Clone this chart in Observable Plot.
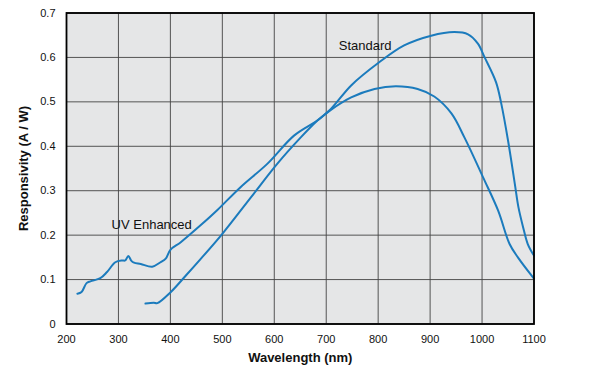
<!DOCTYPE html>
<html>
<head>
<meta charset="utf-8">
<script src="https://cdn.jsdelivr.net/npm/d3@7"></script>
<script src="https://cdn.jsdelivr.net/npm/@observablehq/plot@0.6"></script>
<style>
  html, body { margin: 0; padding: 0; background: #fff; }
  #chart svg { font-family: "Liberation Sans", Arial, Helvetica, sans-serif; }
  #chart g[aria-label="x-axis label"] text,
  #chart g[aria-label="y-axis label"] text { font-weight: bold; font-size: 13px; }
</style>
</head>
<body>
<div id="chart"></div>
<script>
// UV Enhanced series
const uvWavelength = [221, 229, 238.6, 246, 265, 278, 294, 307, 313, 319, 325, 330, 343, 365, 381, 391, 400, 420, 458, 490, 535, 587, 638, 683, 709, 748, 793, 834, 876, 908, 941, 966, 1002, 1031, 1053, 1069, 1100];
const uvResponsivity = [0.068, 0.072, 0.092, 0.096, 0.103, 0.117, 0.139, 0.143, 0.143, 0.153, 0.142, 0.138, 0.135, 0.129, 0.139, 0.147, 0.167, 0.184, 0.222, 0.256, 0.308, 0.361, 0.424, 0.458, 0.482, 0.51, 0.529, 0.535, 0.529, 0.512, 0.474, 0.42, 0.33, 0.255, 0.18, 0.15, 0.102];
// Standard series
const stdWavelength = [352, 368, 375, 400, 429, 458, 500, 555, 606, 651, 683, 709, 748, 802, 850, 902, 947, 973, 992, 1005, 1027, 1037, 1050, 1063, 1070, 1079, 1088, 1100];
const stdResponsivity = [0.046, 0.048, 0.047, 0.071, 0.108, 0.146, 0.203, 0.285, 0.361, 0.42, 0.458, 0.484, 0.537, 0.589, 0.627, 0.649, 0.657, 0.652, 0.631, 0.6, 0.544, 0.496, 0.413, 0.316, 0.263, 0.218, 0.18, 0.154];
// Ticks and labels
const xTicks = [200, 300, 400, 500, 600, 700, 800, 900, 1000, 1100];
const yTicks = [0, 0.1, 0.2, 0.3, 0.4, 0.5, 0.6, 0.7];
const seriesNames = ["UV Enhanced", "Standard"];
const labelX = [364, 775];
const labelY = [0.224, 0.625];

const uv = uvWavelength.map((w, i) => ({w, r: uvResponsivity[i], s: seriesNames[0]}));
const std = stdWavelength.map((w, i) => ({w, r: stdResponsivity[i], s: seriesNames[1]}));
const labels = seriesNames.map((s, i) => ({s, w: labelX[i], r: labelY[i]}));

const blue = "#1b7bbd";

const chart = Plot.plot({
  width: 596,
  height: 369,
  marginLeft: 66,
  marginRight: 62.5,
  marginTop: 12.5,
  marginBottom: 45.5,
  style: {fontSize: "11px", fontFamily: "'Liberation Sans', Arial, sans-serif", color: "#111", background: "#fff"},
  x: {domain: [200, 1100], ticks: xTicks, tickSize: 0, tickPadding: 11, tickFormat: d => String(d), label: "Wavelength (nm)", labelAnchor: "center", labelOffset: 38, labelArrow: "none"},
  y: {domain: [0, 0.7], ticks: yTicks, tickSize: 0, tickPadding: 11, tickFormat: d => d === 0 ? "0" : d.toFixed(1), label: "Responsivity (A / W)", labelAnchor: "center", labelOffset: 48, labelArrow: "none"},
  marks: [
    Plot.frame({fill: "#e5e6e7", stroke: null}),
    Plot.gridX(xTicks, {stroke: "#444", strokeOpacity: 0.9, strokeWidth: 1}),
    Plot.gridY(yTicks, {stroke: "#444", strokeOpacity: 0.9, strokeWidth: 1}),
    Plot.line(uv, {x: "w", y: "r", stroke: blue, strokeWidth: 2, curve: "catmull-rom"}),
    Plot.line(std, {x: "w", y: "r", stroke: blue, strokeWidth: 2, curve: "catmull-rom"}),
    Plot.text(labels, {x: "w", y: "r", text: "s", fontSize: 13, fill: "#111"}),
    Plot.frame({stroke: "#000", strokeWidth: 1.8})
  ]
});
document.getElementById("chart").appendChild(chart);
</script>
</body>
</html>
